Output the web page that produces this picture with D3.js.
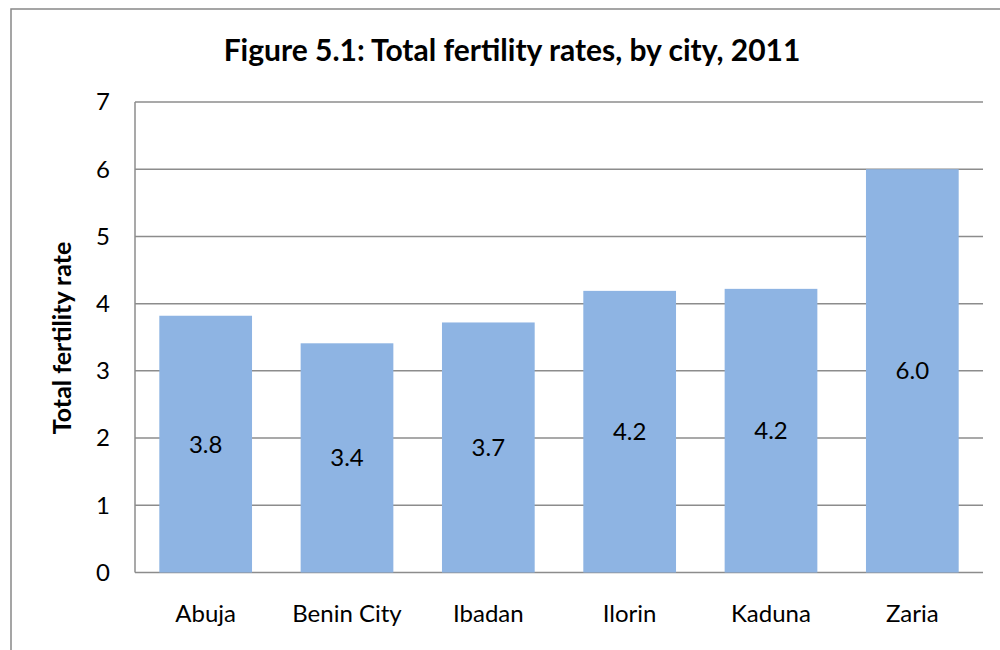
<!DOCTYPE html>
<html><head><meta charset="utf-8">
<script src="https://cdn.jsdelivr.net/npm/d3@7"></script>
<style>body{margin:0;background:#fff}svg{display:block}text{font-family:Lato,"Open Sans",sans-serif;fill:#000}</style>
</head><body><svg id="c" width="1000" height="650"></svg>
<script>
const cities = ["Abuja","Benin City","Ibadan","Ilorin","Kaduna","Zaria"];
const tfr = [3.82,3.41,3.72,4.19,4.22,6.0];
const yTicks = [0,1,2,3,4,5,6,7];
const title = "Figure 5.1: Total fertility rates, by city, 2011";
const yTitle = "Total fertility rate";

const svg = d3.select("#c");
const m = {l:135, r:983, t:102, b:572.5};
// outer frame
svg.append("rect").attr("x",11).attr("y",9).attr("width",1100).attr("height",800)
  .attr("fill","none").attr("stroke","#888").attr("stroke-width",1.5);

const x = d3.scaleBand().domain(cities).range([m.l,m.r]).paddingInner(0.344).paddingOuter(0.172);
const y = d3.scaleLinear().domain([0,7]).range([m.b,m.t]);

// gridlines
svg.append("g").selectAll("line").data(yTicks).join("line")
  .attr("x1",m.l).attr("x2",m.r).attr("y1",d=>y(d)).attr("y2",d=>y(d))
  .attr("stroke","#8c8c8c").attr("stroke-width",1.5);
// left axis line
svg.append("line").attr("x1",m.l).attr("x2",m.l).attr("y1",m.t).attr("y2",m.b)
  .attr("stroke","#8c8c8c").attr("stroke-width",1.5);

// y tick labels
svg.append("g").selectAll("text").data(yTicks).join("text")
  .attr("x",110).attr("y",d=>y(d)).attr("dy","0.35em").attr("text-anchor","end")
  .attr("font-size",24).text(d=>d);

// bars
svg.append("g").selectAll("rect").data(cities).join("rect")
  .attr("x",d=>x(d)).attr("width",x.bandwidth())
  .attr("y",(d,i)=>y(tfr[i])).attr("height",(d,i)=>y(0)-y(tfr[i]))
  .attr("fill","#8EB4E3");

// bar labels
svg.append("g").selectAll("text").data(cities).join("text")
  .attr("x",d=>x(d)+x.bandwidth()/2).attr("y",(d,i)=>(y(tfr[i])+y(0))/2)
  .attr("dy","0.35em").attr("text-anchor","middle").attr("font-size",24)
  .text((d,i)=>d3.format(".1f")(tfr[i]));

// x labels
svg.append("g").selectAll("text").data(cities).join("text")
  .attr("x",d=>x(d)+x.bandwidth()/2).attr("y",614).attr("dy","0.35em")
  .attr("text-anchor","middle").attr("font-size",24).text(d=>d);

// title
svg.append("text").attr("x",512).attr("y",50).attr("dy","0.35em").attr("text-anchor","middle")
  .attr("font-size",30).attr("font-weight","bold").text(title);

// y title
svg.append("text").attr("transform","translate(62,338) rotate(-90)").attr("dy","0.35em")
  .attr("text-anchor","middle").attr("font-size",25).attr("font-weight","bold").text(yTitle);
</script></body></html>
